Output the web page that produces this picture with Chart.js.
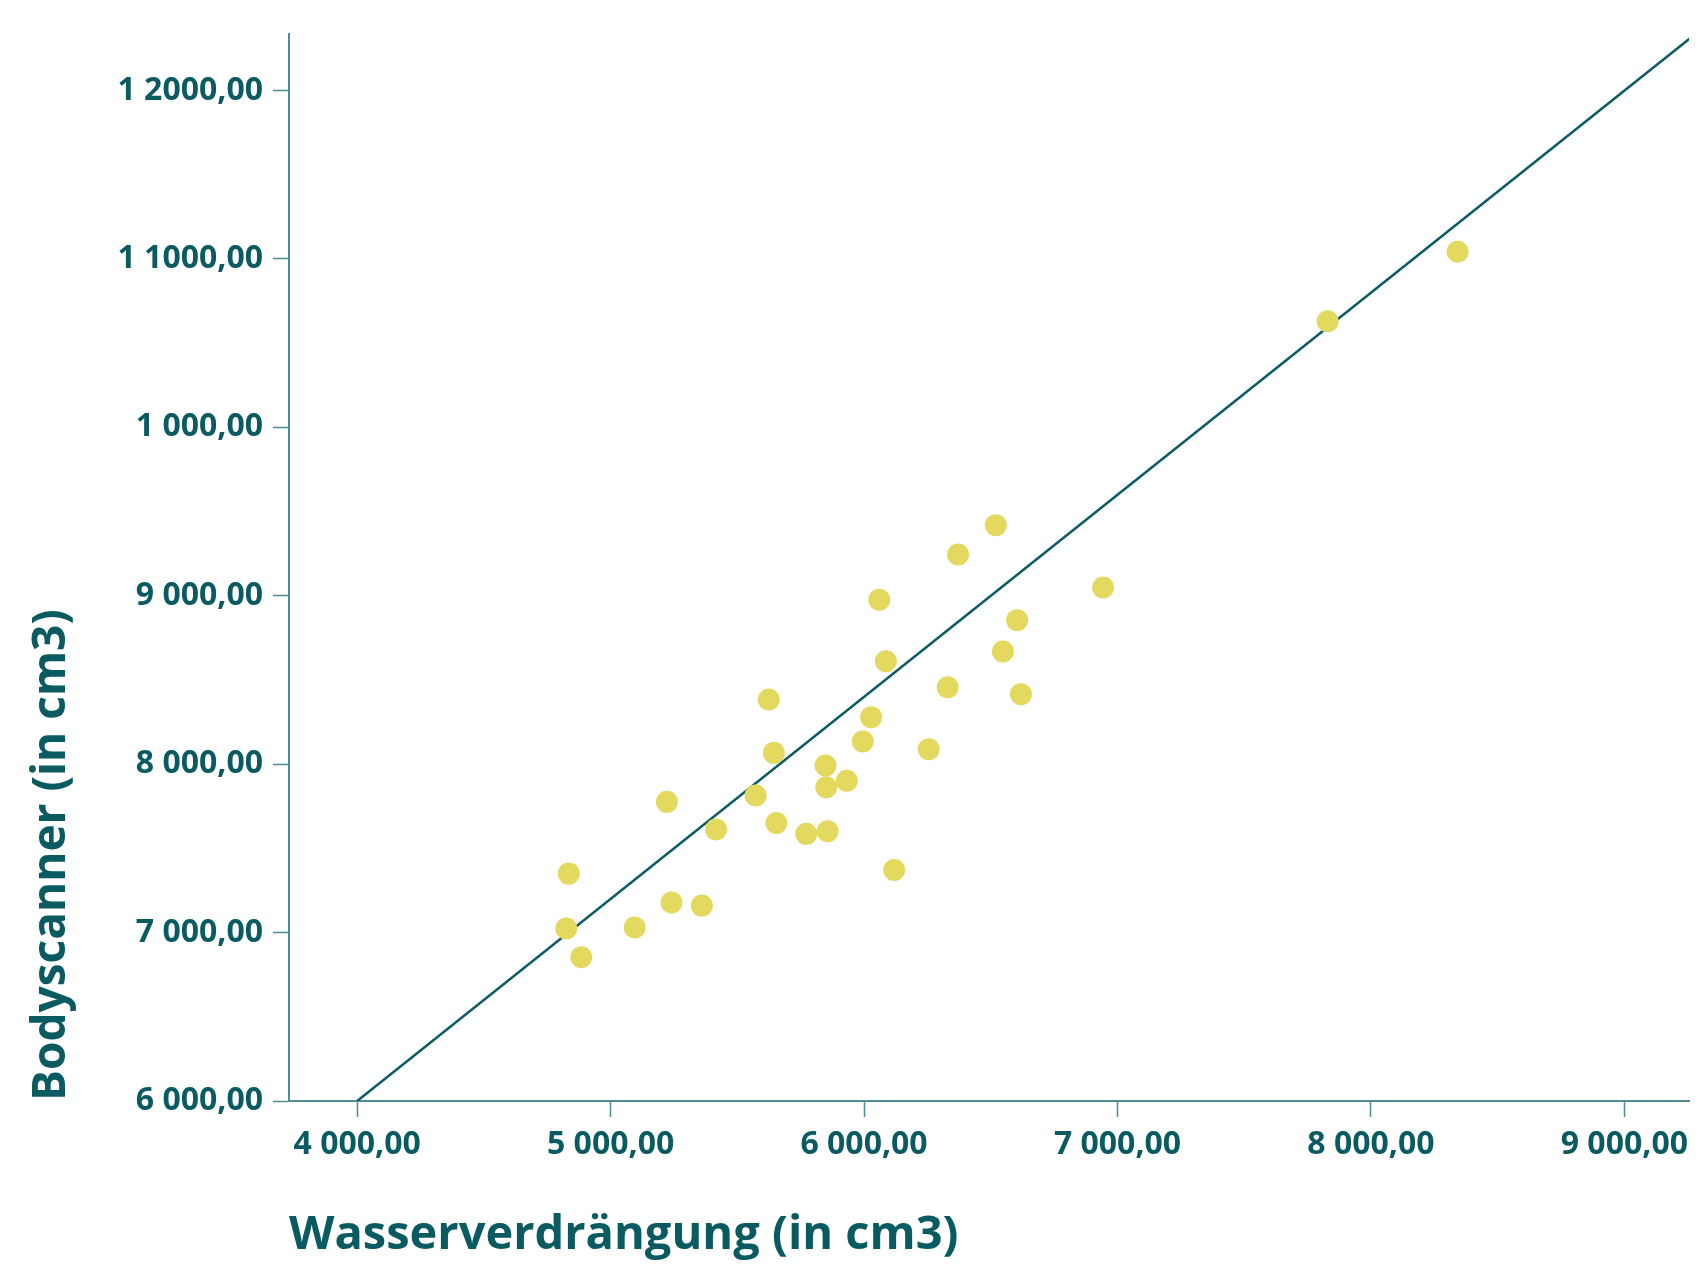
<!DOCTYPE html>
<html>
<head>
<meta charset="utf-8">
<script src="https://cdn.jsdelivr.net/npm/chart.js@4.4.0/dist/chart.umd.min.js"></script>
<style>
  html, body { margin: 0; padding: 0; background: #ffffff; }
  #wrap { width: 1700px; height: 1267px; }
</style>
</head>
<body>
<div id="wrap"><canvas id="c" width="1700" height="1267"></canvas></div>
<script>
// Measurements: water displacement (x) vs body scanner (y), in cm3
const wasserX = [8342, 7829, 6520, 6371, 6943, 6060, 6604, 6548, 6086, 6330, 6619, 5624, 6028, 5995, 6255, 5644, 5848, 5932, 5851, 5572, 5222, 5654, 5416, 5856, 5772, 4835, 6119, 5240, 5360, 4825, 5095, 4884];
const bodyY   = [11042, 10630, 9419, 9245, 9049, 8976, 8855, 8669, 8611, 8457, 8415, 8384, 8279, 8134, 8088, 8067, 7992, 7901, 7863, 7814, 7776, 7651, 7612, 7602, 7586, 7350, 7372, 7178, 7160, 7024, 7030, 6853];

// Reference line endpoints
const lineX = [4000, 9260];
const lineY = [6000, 12310];

// Tick values and labels (as printed in the original)
const xTickValues = [4000, 5000, 6000, 7000, 8000, 9000];
const xTickLabels = ["4 000,00", "5 000,00", "6 000,00", "7 000,00", "8 000,00", "9 000,00"];
const yTickValues = [6000, 7000, 8000, 9000, 10000, 11000, 12000];
const yTickLabels = ["6 000,00", "7 000,00", "8 000,00", "9 000,00", "1 000,00", "1 1000,00", "1 2000,00"];

const xTitle = "Wasserverdrängung (in cm3)";
const yTitle = "Bodyscanner (in cm3)";

const TEXT = "#0a5a62";
const AXIS = "#4f8d94";
const DOT = "#e4d95f";
const LINE = "#0b5b63";
const FONT = "'Open Sans', 'DejaVu Sans', sans-serif";

const scatterData = wasserX.map((x, i) => ({ x: x, y: bodyY[i] }));
const lineData = lineX.map((x, i) => ({ x: x, y: lineY[i] }));

function labelFor(values, labels) {
  return function (v) {
    const i = values.indexOf(v);
    return i >= 0 ? labels[i] : "";
  };
}

new Chart(document.getElementById("c"), {
  type: "scatter",
  data: {
    datasets: [
      {
        type: "line",
        data: lineData,
        borderColor: LINE,
        borderWidth: 2.5,
        pointRadius: 0,
        fill: false,
        order: 2
      },
      {
        type: "scatter",
        data: scatterData,
        backgroundColor: DOT,
        borderWidth: 0,
        pointRadius: 11,
        order: 1
      }
    ]
  },
  options: {
    responsive: false,
    animation: false,
    devicePixelRatio: 1,
    layout: { padding: { top: 34, right: 7, left: 0, bottom: 0 } },
    plugins: {
      legend: { display: false },
      tooltip: { enabled: false }
    },
    scales: {
      x: {
        type: "linear",
        min: 3731,
        max: 9255,
        afterFit: function (s) { s.height = 166; },
        afterBuildTicks: function (s) { s.ticks = xTickValues.map(v => ({ value: v })); },
        ticks: {
          includeBounds: false,
          stepSize: 1000,
          maxRotation: 0,
          autoSkip: false,
          padding: 9,
          color: TEXT,
          font: { family: FONT, size: 32, weight: "bold" },
          callback: labelFor(xTickValues, xTickLabels)
        },
        grid: {
          drawOnChartArea: false,
          drawTicks: true,
          tickLength: 16,
          tickColor: AXIS,
          tickWidth: 1.5
        },
        border: { display: true, color: AXIS, width: 2 },
        title: {
          display: true,
          text: xTitle,
          align: "start",
          color: TEXT,
          font: { family: FONT, size: 47, weight: "bold" },
          padding: { top: 0, bottom: 3 }
        }
      },
      y: {
        type: "linear",
        min: 6000,
        max: 12335,
        afterFit: function (s) { s.width = 289; },
        afterBuildTicks: function (s) { s.ticks = yTickValues.map(v => ({ value: v })); },
        ticks: {
          includeBounds: false,
          stepSize: 1000,
          autoSkip: false,
          padding: 10,
          color: TEXT,
          font: { family: FONT, size: 32, weight: "bold" },
          callback: labelFor(yTickValues, yTickLabels)
        },
        grid: {
          drawOnChartArea: false,
          drawTicks: true,
          tickLength: 16,
          tickColor: AXIS,
          tickWidth: 1.5
        },
        border: { display: true, color: AXIS, width: 2 },
        title: {
          display: true,
          text: yTitle,
          align: "start",
          color: TEXT,
          font: { family: FONT, size: 46, weight: "bold" },
          padding: { top: 24, bottom: 0 }
        }
      }
    }
  }
});
</script>
</body>
</html>
